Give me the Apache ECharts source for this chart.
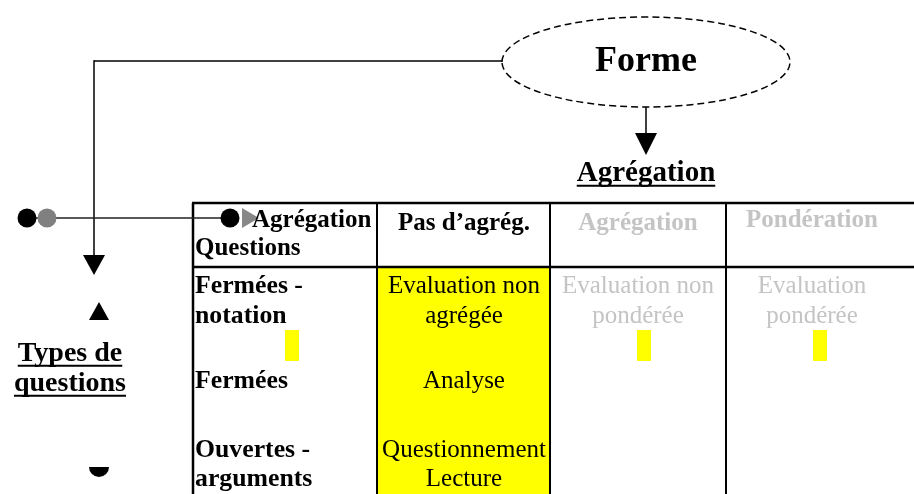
<!DOCTYPE html>
<html>
<head>
<meta charset="utf-8">
<script src="https://cdn.jsdelivr.net/npm/echarts@6/dist/echarts.min.js"></script>
<style>html,body{margin:0;padding:0;background:#fff}#c{width:914px;height:494px}</style>
</head>
<body>
<div id="c"></div>
<script>
// ---- content (texts) ----
const ellipseLabel = 'Forme';
const targetLabel = 'Agrégation';
const sideLabel = ['Types de', 'questions'];
const cornerLabels = ['Agrégation', 'Questions'];
const columnHeaders = ['Pas d’agrég.', 'Agrégation', 'Pondération'];
const headerActive = [true, false, false];
const rowLabels = [['Fermées -', 'notation'], ['Fermées'], ['Ouvertes -', 'arguments']];
const cellTexts = [
  [['Evaluation non', 'agrégée'], ['Analyse'], ['Questionnement', 'Lecture']],
  [['Evaluation non', 'pondérée'], [], []],
  [['Evaluation', 'pondérée'], [], []]
];
const highlightedColumn = [true, false, false];
const markerColumns = [0, 2, 3]; // small yellow marks in first row (0 = label column)

// ---- layout ----
const W = 914, H = 494;
const FONT = '"Liberation Serif", "Times New Roman", serif';
const colX = [193, 377, 550, 726, 914];
const colCenter = [464, 638, 812];
const tableTop = 203, headerBottom = 267;
const headerBase = [230, 230, 227];
const cornerBase = [227, 255];
const rowBase = [[293, 323], [388], [457, 486]];
const markerX = [285, null, 637, 813];

const measureCtx = document.createElement('canvas').getContext('2d');
function textWidth(s, font) { measureCtx.font = font; return measureCtx.measureText(s).width; }

function renderItem(params, api) {
  const P = (x, y) => api.coord([x, y]);
  const ch = [];
  const line = (x1, y1, x2, y2, w, c, dash) => {
    const a = P(x1, y1), b = P(x2, y2);
    ch.push({ type: 'line', shape: { x1: a[0], y1: a[1], x2: b[0], y2: b[1] },
      style: { stroke: c, lineWidth: w, lineDash: dash || null } });
  };
  const rect = (x, y, w, h, c) => {
    const a = P(x, y), b = P(x + w, y + h);
    ch.push({ type: 'rect', shape: { x: a[0], y: a[1], width: b[0] - a[0], height: b[1] - a[1] }, style: { fill: c } });
  };
  const poly = (pts, c) => ch.push({ type: 'polygon', shape: { points: pts.map(p => P(p[0], p[1])) }, style: { fill: c } });
  const circle = (x, y, r, c) => { const a = P(x, y); ch.push({ type: 'circle', shape: { cx: a[0], cy: a[1], r: r }, style: { fill: c } }); };
  const text = (s, x, base, size, bold, c, align, underline, sx) => {
    sx = sx || 1;
    const font = (bold ? 'bold ' : '') + size + 'px ' + FONT;
    const a = P(x, base - 0.26 * size);
    ch.push({ type: 'text', x: a[0], y: a[1], scaleX: sx, style: { text: s, font: font, fill: c,
      textAlign: align, align: align, textVerticalAlign: 'middle', verticalAlign: 'middle' } });
    if (underline) {
      const w = textWidth(s, font) * sx;
      const x0 = align === 'center' ? x - w / 2 : (align === 'right' ? x - w : x);
      rect(x0, base + 0.13 * size, w, Math.max(2, size * 0.07), c);
    }
  };

  // yellow highlight column
  highlightedColumn.forEach((on, i) => { if (on) rect(colX[i + 1], headerBottom, colX[i + 2] - colX[i + 1], H - headerBottom, '#FFFF00'); });
  // small yellow markers
  markerColumns.forEach(ci => rect(markerX[ci], 330, 14, 31, '#FFFF00'));

  // table grid
  line(colX[0] - 1, tableTop, W, tableTop, 2.5, '#000');
  line(colX[0], headerBottom, W, headerBottom, 2.5, '#000');
  for (let i = 0; i < 4; i++) line(colX[i], tableTop, colX[i], H, i === 0 ? 2.5 : 2, '#000');

  // dashed ellipse
  const ec = P(646, 62);
  ch.push({ type: 'ellipse', shape: { cx: ec[0], cy: ec[1], rx: 144, ry: 45 },
    style: { fill: null, stroke: '#000', lineWidth: 1.5, lineDash: [7, 4] } });
  text(ellipseLabel, 646, 71, 36, true, '#000', 'center');

  // connector from ellipse to left, down with arrow
  line(502, 61, 94, 61, 1.5, '#000');
  line(94, 60.25, 94, 256, 1.5, '#000');
  poly([[83, 255], [105, 255], [94, 275]], '#000');

  // arrow ellipse -> Agrégation
  line(646, 107, 646, 134, 1.5, '#000');
  poly([[635, 133], [657, 133], [646, 155]], '#000');
  text(targetLabel, 646, 181, 29, true, '#000', 'center', true);

  // side markers
  poly([[89, 320], [109, 320], [99, 302]], '#000');
  const sc = P(99, 467);
  ch.push({ type: 'sector', shape: { cx: sc[0], cy: sc[1], r0: 0, r: 10, startAngle: 0, endAngle: Math.PI, clockwise: true }, style: { fill: '#000' } });
  text(sideLabel[0], 70, 361, 28, true, '#000', 'center', true);
  text(sideLabel[1], 70, 391, 28, true, '#000', 'center', true);

  // horizontal pointer line
  line(27, 218, 230, 218, 1.5, '#222');
  circle(27, 218, 9.5, '#000');
  circle(47, 218, 9.5, '#808080');
  circle(230, 218, 9.5, '#000');
  poly([[242, 208], [242, 228], [259, 218]], '#888');

  // header texts
  text(cornerLabels[0], 252, cornerBase[0], 25, true, '#000', 'left');
  text(cornerLabels[1], 195, cornerBase[1], 25, true, '#000', 'left');
  columnHeaders.forEach((s, i) => text(s, colCenter[i], headerBase[i], 25, true, headerActive[i] ? '#000' : '#C4C4C4', 'center'));

  // row labels and cells
  rowLabels.forEach((lines, r) => lines.forEach((s, k) => text(s, 195, rowBase[r][k], 25, true, '#000', 'left', false, 1.03)));
  cellTexts.forEach((col, c) => col.forEach((lines, r) => lines.forEach((s, k) =>
    text(s, colCenter[c], rowBase[r][k], 25, false, headerActive[c] ? '#000' : '#C4C4C4', 'center'))));

  return { type: 'group', children: ch };
}

const chart = echarts.init(document.getElementById('c'), null, { renderer: 'canvas' });
chart.setOption({
  animation: false,
  backgroundColor: '#fff',
  grid: { left: 0, right: 0, top: 0, bottom: 0 },
  xAxis: { type: 'value', min: 0, max: W, show: false },
  yAxis: { type: 'value', min: 0, max: H, inverse: true, show: false },
  series: [{ type: 'custom', renderItem: renderItem, data: [[0, 0]], clip: false, silent: true }]
});
</script>
</body>
</html>
